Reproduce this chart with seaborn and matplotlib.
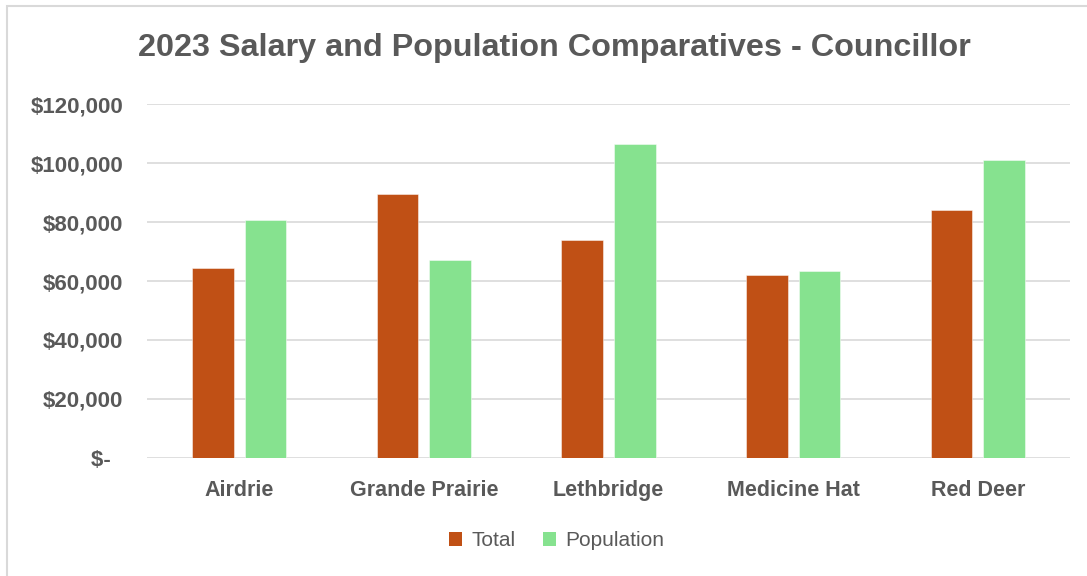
import matplotlib
matplotlib.use("Agg")
import matplotlib.pyplot as plt
import matplotlib.patches as mpatches
from matplotlib.ticker import FuncFormatter
import pandas as pd
import seaborn as sns

# Councillor comparison data
cities = ["Airdrie", "Grande Prairie", "Lethbridge", "Medicine Hat", "Red Deer"]
total = [64400, 89400, 73800, 61900, 84000]
population = [80600, 67200, 106400, 63300, 101000]
series_names = ["Total", "Population"]
y_ticks = [0, 20000, 40000, 60000, 80000, 100000, 120000]

TEXT = "#595959"
GRID = "#d9d9d9"
COLORS = {"Total": "#C05015", "Population": "#86E28F"}

df = pd.DataFrame({
    "City": cities * 2,
    "Series": [series_names[0]] * len(cities) + [series_names[1]] * len(cities),
    "Value": total + population,
})

sns.set_theme(style="white")
plt.rcParams["font.family"] = ["Liberation Sans", "DejaVu Sans"]

fig = plt.figure(figsize=(10.87, 5.76), dpi=100)
ax = fig.add_axes([0.1352, 0.2054, 0.8492, 0.6135])

sns.barplot(data=df, x="City", y="Value", hue="Series", order=cities,
            hue_order=series_names, palette=COLORS, saturation=1,
            width=0.571, gap=0.21, edgecolor=(1, 1, 1, 0.55), linewidth=0.6,
            ax=ax, legend=False, zorder=3)

ax.set_ylim(0, 120000)
ax.set_xlim(-0.5, len(cities) - 0.5)
ax.set_yticks(y_ticks)
# accounting-style labels: zero shown as a dash with trailing padding
ax.yaxis.set_major_formatter(
    FuncFormatter(lambda v, _: "$-  " if v == 0 else f"${v:,.0f}"))
ax.grid(axis="y", color=GRID, linewidth=1.2, zorder=0)
ax.set_axisbelow(True)
for s in ax.spines.values():
    s.set_visible(False)
ax.set_xlabel("")
ax.set_ylabel("")
ax.tick_params(axis="y", length=0, pad=17, labelsize=16, labelcolor=TEXT)
ax.tick_params(axis="x", length=0, pad=16, labelsize=15.5, labelcolor=TEXT)
for lab in ax.get_yticklabels() + ax.get_xticklabels():
    lab.set_fontweight("bold")

fig.text(0.51, 0.917, "2023 Salary and Population Comparatives - Councillor",
         ha="center", va="center", fontsize=23.3, fontweight="bold", color=TEXT)

handles = [mpatches.Patch(facecolor=COLORS[n], edgecolor="none", label=n)
           for n in series_names]
leg = fig.legend(handles=handles, loc="center", bbox_to_anchor=(0.512, 0.061),
                 ncol=2, frameon=False, fontsize=15, handlelength=0.62,
                 handleheight=0.62, handletextpad=0.45, columnspacing=1.3)
for t in leg.get_texts():
    t.set_color(TEXT)

# outer chart frame
fig.add_artist(mpatches.Rectangle((7 / 1087, -0.1), 1.2, 1 - 6 / 576 + 0.1,
                                  transform=fig.transFigure, fill=False,
                                  edgecolor=GRID, linewidth=1.5))

fig.savefig("out.png", dpi=100, facecolor="white")
